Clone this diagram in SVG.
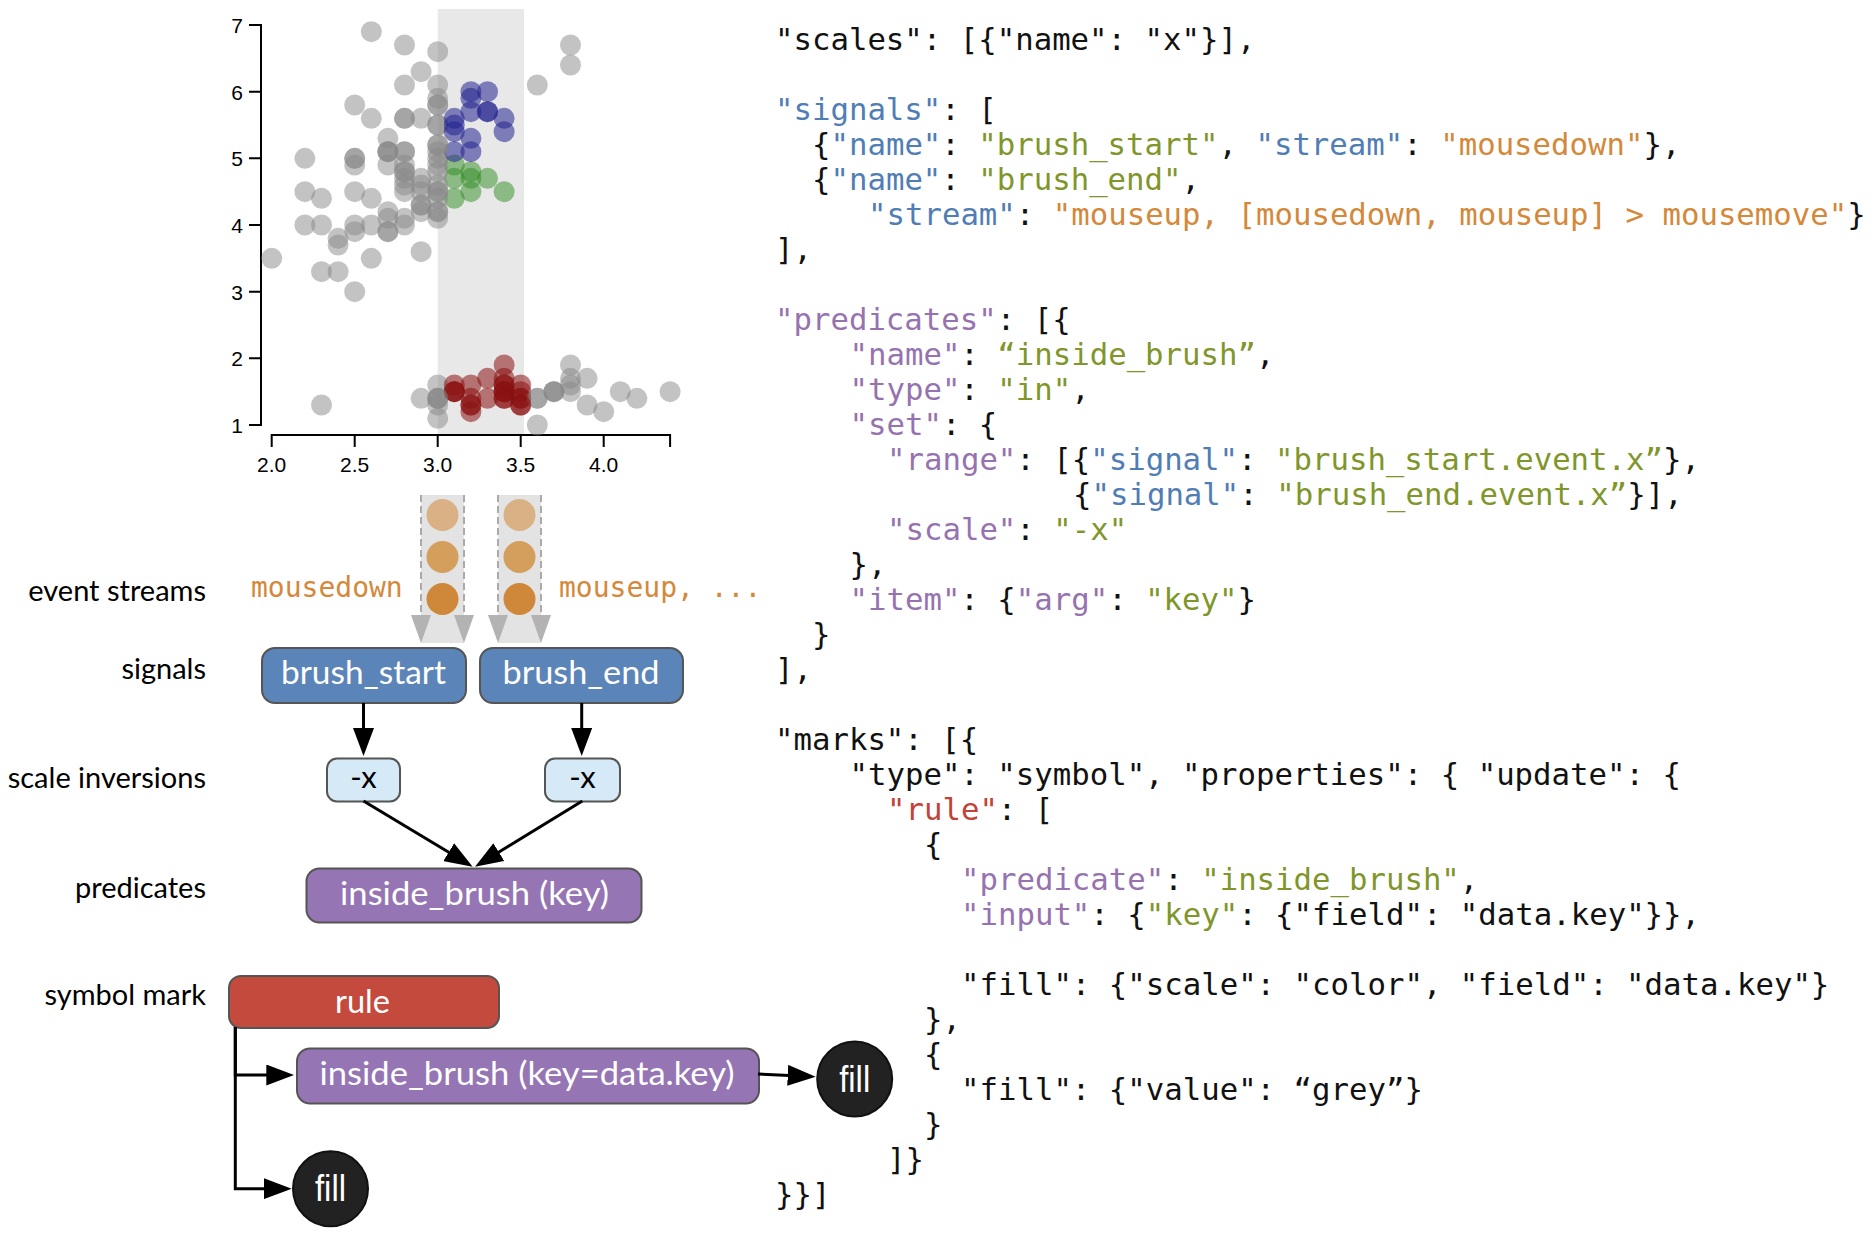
<svg xmlns="http://www.w3.org/2000/svg" width="1876" height="1234" viewBox="0 0 1876 1234">
<defs>
<style>
.tick{font-family:"Liberation Sans",Arial,sans-serif;font-size:21px;fill:#000}
.lbl{font-family:Lato,"Noto Sans",sans-serif;font-size:29px;fill:#000;text-anchor:end}
.bt{font-family:Lato,"Noto Sans",sans-serif;font-size:33px;fill:#fff;text-anchor:middle}
.ax{fill:none;stroke:#000;stroke-width:2}
.g{fill:#888;fill-opacity:0.5}
.r{fill:#8a1010;fill-opacity:0.55}
.gr{fill:#2f8c22;fill-opacity:0.5}
.b{fill:#23238f;fill-opacity:0.55}
.code{font-family:"DejaVu Sans Mono","Liberation Mono",monospace;font-size:30.7px;fill:#111}
.ev{font-family:"DejaVu Sans Mono","Liberation Mono",monospace;font-size:28px;fill:#d4883a}
.cB{fill:#507db4}.cG{fill:#80962a}.cO{fill:#d4883a}.cP{fill:#9673af}.cR{fill:#c34137}
.box{stroke:#555;stroke-width:2}
.col{fill:#e3e3e3}
.dash{stroke:#aaa;stroke-width:2;stroke-dasharray:7 4}
.tri{fill:#b3b3b3}
.con{fill:none;stroke:#000;stroke-width:3;marker-end:url(#ah)}
.fillc{fill:#222;stroke:#111;stroke-width:2}
.ft{font-family:"Liberation Sans",Arial,sans-serif;font-size:36px;fill:#fff;text-anchor:middle}
</style>
<marker id="ah" markerUnits="userSpaceOnUse" markerWidth="28" markerHeight="21" viewBox="0 0 28 21" refX="18" refY="10.5" orient="auto"><path d="M0,0L28,10.5L0,21z" fill="#000"/></marker>
</defs>
<rect width="1876" height="1234" fill="#fff"/>

<g id="scatter">
<rect x="437.7" y="9" width="86.3" height="426" fill="#e8e8e8"/>
<path class="ax" d="M249,25H261V425H249"/>
<path class="ax" d="M249,91.7H261M249,158.3H261M249,225H261M249,291.7H261M249,358.3H261"/>
<path class="ax" d="M271.7,447V435H670.1V447M354.7,435V447M437.7,435V447M520.7,435V447M603.7,435V447"/>
<g class="tick" text-anchor="end">
<text x="243" y="33">7</text><text x="243" y="99.7">6</text><text x="243" y="166.3">5</text><text x="243" y="233">4</text><text x="243" y="299.7">3</text><text x="243" y="366.3">2</text><text x="243" y="433">1</text>
</g>
<g class="tick" text-anchor="middle">
<text x="271.7" y="472">2.0</text><text x="354.7" y="472">2.5</text><text x="437.7" y="472">3.0</text><text x="520.7" y="472">3.5</text><text x="603.7" y="472">4.0</text>
</g>
<g id="points">
<circle class="r" cx="520.7" cy="398.3" r="10.5"/>
<circle class="g" cx="437.7" cy="398.3" r="10.5"/>
<circle class="r" cx="470.9" cy="405" r="10.5"/>
<circle class="r" cx="454.3" cy="391.7" r="10.5"/>
<circle class="g" cx="537.3" cy="398.3" r="10.5"/>
<circle class="g" cx="587.1" cy="378.3" r="10.5"/>
<circle class="r" cx="504.1" cy="398.3" r="10.5"/>
<circle class="r" cx="504.1" cy="391.7" r="10.5"/>
<circle class="g" cx="421.1" cy="398.3" r="10.5"/>
<circle class="r" cx="454.3" cy="391.7" r="10.5"/>
<circle class="g" cx="553.9" cy="391.7" r="10.5"/>
<circle class="r" cx="504.1" cy="385" r="10.5"/>
<circle class="g" cx="437.7" cy="398.3" r="10.5"/>
<circle class="g" cx="437.7" cy="418.3" r="10.5"/>
<circle class="g" cx="603.7" cy="411.7" r="10.5"/>
<circle class="g" cx="670.1" cy="391.7" r="10.5"/>
<circle class="g" cx="587.1" cy="405" r="10.5"/>
<circle class="r" cx="520.7" cy="398.3" r="10.5"/>
<circle class="g" cx="570.5" cy="378.3" r="10.5"/>
<circle class="g" cx="570.5" cy="391.7" r="10.5"/>
<circle class="r" cx="504.1" cy="378.3" r="10.5"/>
<circle class="g" cx="553.9" cy="391.7" r="10.5"/>
<circle class="g" cx="537.3" cy="425" r="10.5"/>
<circle class="r" cx="487.5" cy="378.3" r="10.5"/>
<circle class="r" cx="504.1" cy="365" r="10.5"/>
<circle class="g" cx="437.7" cy="385" r="10.5"/>
<circle class="r" cx="504.1" cy="385" r="10.5"/>
<circle class="r" cx="520.7" cy="391.7" r="10.5"/>
<circle class="r" cx="504.1" cy="398.3" r="10.5"/>
<circle class="r" cx="470.9" cy="385" r="10.5"/>
<circle class="r" cx="454.3" cy="385" r="10.5"/>
<circle class="r" cx="504.1" cy="391.7" r="10.5"/>
<circle class="g" cx="620.3" cy="391.7" r="10.5"/>
<circle class="g" cx="636.9" cy="398.3" r="10.5"/>
<circle class="r" cx="454.3" cy="391.7" r="10.5"/>
<circle class="r" cx="470.9" cy="411.7" r="10.5"/>
<circle class="r" cx="520.7" cy="405" r="10.5"/>
<circle class="g" cx="537.3" cy="398.3" r="10.5"/>
<circle class="g" cx="437.7" cy="405" r="10.5"/>
<circle class="r" cx="504.1" cy="391.7" r="10.5"/>
<circle class="r" cx="520.7" cy="405" r="10.5"/>
<circle class="g" cx="321.5" cy="405" r="10.5"/>
<circle class="r" cx="470.9" cy="405" r="10.5"/>
<circle class="r" cx="520.7" cy="385" r="10.5"/>
<circle class="g" cx="570.5" cy="365" r="10.5"/>
<circle class="g" cx="437.7" cy="398.3" r="10.5"/>
<circle class="g" cx="570.5" cy="385" r="10.5"/>
<circle class="r" cx="470.9" cy="398.3" r="10.5"/>
<circle class="g" cx="553.9" cy="391.7" r="10.5"/>
<circle class="r" cx="487.5" cy="398.3" r="10.5"/>
<circle class="gr" cx="470.9" cy="178.3" r="10.5"/>
<circle class="gr" cx="470.9" cy="191.7" r="10.5"/>
<circle class="gr" cx="454.3" cy="165" r="10.5"/>
<circle class="g" cx="321.5" cy="225" r="10.5"/>
<circle class="g" cx="404.5" cy="185" r="10.5"/>
<circle class="g" cx="404.5" cy="191.7" r="10.5"/>
<circle class="gr" cx="487.5" cy="178.3" r="10.5"/>
<circle class="g" cx="338.1" cy="271.7" r="10.5"/>
<circle class="g" cx="421.1" cy="185" r="10.5"/>
<circle class="g" cx="387.9" cy="231.7" r="10.5"/>
<circle class="g" cx="271.7" cy="258.3" r="10.5"/>
<circle class="g" cx="437.7" cy="211.7" r="10.5"/>
<circle class="g" cx="304.9" cy="225" r="10.5"/>
<circle class="g" cx="421.1" cy="178.3" r="10.5"/>
<circle class="g" cx="421.1" cy="251.7" r="10.5"/>
<circle class="gr" cx="454.3" cy="198.3" r="10.5"/>
<circle class="g" cx="437.7" cy="191.7" r="10.5"/>
<circle class="g" cx="387.9" cy="218.3" r="10.5"/>
<circle class="g" cx="304.9" cy="191.7" r="10.5"/>
<circle class="g" cx="354.7" cy="231.7" r="10.5"/>
<circle class="gr" cx="470.9" cy="171.7" r="10.5"/>
<circle class="g" cx="404.5" cy="225" r="10.5"/>
<circle class="g" cx="354.7" cy="165" r="10.5"/>
<circle class="g" cx="404.5" cy="178.3" r="10.5"/>
<circle class="g" cx="421.1" cy="205" r="10.5"/>
<circle class="g" cx="437.7" cy="198.3" r="10.5"/>
<circle class="g" cx="404.5" cy="171.7" r="10.5"/>
<circle class="g" cx="437.7" cy="158.3" r="10.5"/>
<circle class="g" cx="421.1" cy="191.7" r="10.5"/>
<circle class="g" cx="371.3" cy="258.3" r="10.5"/>
<circle class="g" cx="338.1" cy="238.3" r="10.5"/>
<circle class="g" cx="338.1" cy="245" r="10.5"/>
<circle class="g" cx="387.9" cy="231.7" r="10.5"/>
<circle class="g" cx="387.9" cy="151.7" r="10.5"/>
<circle class="g" cx="437.7" cy="191.7" r="10.5"/>
<circle class="gr" cx="504.1" cy="191.7" r="10.5"/>
<circle class="gr" cx="454.3" cy="178.3" r="10.5"/>
<circle class="g" cx="321.5" cy="198.3" r="10.5"/>
<circle class="g" cx="437.7" cy="218.3" r="10.5"/>
<circle class="g" cx="354.7" cy="225" r="10.5"/>
<circle class="g" cx="371.3" cy="198.3" r="10.5"/>
<circle class="g" cx="437.7" cy="185" r="10.5"/>
<circle class="g" cx="371.3" cy="225" r="10.5"/>
<circle class="g" cx="321.5" cy="271.7" r="10.5"/>
<circle class="g" cx="387.9" cy="211.7" r="10.5"/>
<circle class="g" cx="437.7" cy="211.7" r="10.5"/>
<circle class="g" cx="421.1" cy="211.7" r="10.5"/>
<circle class="g" cx="421.1" cy="205" r="10.5"/>
<circle class="g" cx="354.7" cy="291.7" r="10.5"/>
<circle class="g" cx="404.5" cy="218.3" r="10.5"/>
<circle class="b" cx="487.5" cy="91.7" r="10.5"/>
<circle class="g" cx="387.9" cy="151.7" r="10.5"/>
<circle class="g" cx="437.7" cy="98.3" r="10.5"/>
<circle class="g" cx="421.1" cy="118.3" r="10.5"/>
<circle class="g" cx="437.7" cy="105" r="10.5"/>
<circle class="g" cx="437.7" cy="51.7" r="10.5"/>
<circle class="g" cx="354.7" cy="191.7" r="10.5"/>
<circle class="g" cx="421.1" cy="71.7" r="10.5"/>
<circle class="g" cx="354.7" cy="105" r="10.5"/>
<circle class="g" cx="537.3" cy="85" r="10.5"/>
<circle class="b" cx="470.9" cy="151.7" r="10.5"/>
<circle class="g" cx="387.9" cy="138.3" r="10.5"/>
<circle class="g" cx="437.7" cy="125" r="10.5"/>
<circle class="g" cx="354.7" cy="158.3" r="10.5"/>
<circle class="g" cx="404.5" cy="151.7" r="10.5"/>
<circle class="b" cx="470.9" cy="138.3" r="10.5"/>
<circle class="g" cx="437.7" cy="125" r="10.5"/>
<circle class="g" cx="570.5" cy="45" r="10.5"/>
<circle class="g" cx="371.3" cy="31.7" r="10.5"/>
<circle class="g" cx="304.9" cy="158.3" r="10.5"/>
<circle class="b" cx="470.9" cy="111.7" r="10.5"/>
<circle class="g" cx="404.5" cy="165" r="10.5"/>
<circle class="g" cx="404.5" cy="45" r="10.5"/>
<circle class="g" cx="387.9" cy="165" r="10.5"/>
<circle class="b" cx="487.5" cy="111.7" r="10.5"/>
<circle class="b" cx="470.9" cy="91.7" r="10.5"/>
<circle class="g" cx="404.5" cy="171.7" r="10.5"/>
<circle class="g" cx="437.7" cy="165" r="10.5"/>
<circle class="g" cx="404.5" cy="118.3" r="10.5"/>
<circle class="g" cx="437.7" cy="105" r="10.5"/>
<circle class="g" cx="404.5" cy="85" r="10.5"/>
<circle class="g" cx="570.5" cy="65" r="10.5"/>
<circle class="g" cx="404.5" cy="118.3" r="10.5"/>
<circle class="g" cx="404.5" cy="151.7" r="10.5"/>
<circle class="g" cx="371.3" cy="118.3" r="10.5"/>
<circle class="g" cx="437.7" cy="85" r="10.5"/>
<circle class="b" cx="504.1" cy="118.3" r="10.5"/>
<circle class="b" cx="454.3" cy="125" r="10.5"/>
<circle class="g" cx="437.7" cy="171.7" r="10.5"/>
<circle class="b" cx="454.3" cy="131.7" r="10.5"/>
<circle class="b" cx="454.3" cy="118.3" r="10.5"/>
<circle class="b" cx="454.3" cy="151.7" r="10.5"/>
<circle class="g" cx="387.9" cy="151.7" r="10.5"/>
<circle class="b" cx="470.9" cy="98.3" r="10.5"/>
<circle class="b" cx="487.5" cy="111.7" r="10.5"/>
<circle class="g" cx="437.7" cy="145" r="10.5"/>
<circle class="g" cx="354.7" cy="158.3" r="10.5"/>
<circle class="g" cx="437.7" cy="145" r="10.5"/>
<circle class="b" cx="504.1" cy="131.7" r="10.5"/>
<circle class="g" cx="437.7" cy="151.7" r="10.5"/>
</g>
</g>

<g id="row-labels">
<text class="lbl" x="206" y="601">event streams</text>
<text class="lbl" x="206" y="679">signals</text>
<text class="lbl" x="206" y="788">scale inversions</text>
<text class="lbl" x="206" y="898">predicates</text>
<text class="lbl" x="206" y="1005">symbol mark</text>
</g>

<g id="stream-mousedown">
<text class="ev" x="251" y="597">mousedown</text>
<rect class="col" x="421" y="495" width="43" height="148"/>
<line class="dash" x1="421" y1="495" x2="421" y2="616"/>
<line class="dash" x1="464" y1="495" x2="464" y2="616"/>
<polygon class="tri" points="411,615 431,615 421,643"/>
<polygon class="tri" points="454,615 474,615 464,643"/>
<circle cx="442.5" cy="515" r="16" fill="#d9b185"/>
<circle cx="442.5" cy="557" r="16" fill="#d49e5c"/>
<circle cx="442.5" cy="599" r="16" fill="#cf883a"/>
</g>

<g id="stream-mouseup">
<text class="ev" x="559" y="597">mouseup, ...</text>
<rect class="col" x="498" y="495" width="43" height="148"/>
<line class="dash" x1="498" y1="495" x2="498" y2="616"/>
<line class="dash" x1="541" y1="495" x2="541" y2="616"/>
<polygon class="tri" points="488,615 508,615 498,643"/>
<polygon class="tri" points="531,615 551,615 541,643"/>
<circle cx="519.5" cy="515" r="16" fill="#d9b185"/>
<circle cx="519.5" cy="557" r="16" fill="#d49e5c"/>
<circle cx="519.5" cy="599" r="16" fill="#cf883a"/>
</g>

<g id="n-brush-start">
<rect class="box" x="262" y="648" width="204" height="55" rx="13" fill="#5b84b8"/>
<text class="bt" x="363.5" y="684" textLength="165" lengthAdjust="spacingAndGlyphs">brush_start</text>
</g>
<g id="n-brush-end">
<rect class="box" x="480" y="648" width="203" height="55" rx="13" fill="#5b84b8"/>
<text class="bt" x="581" y="684" textLength="157" lengthAdjust="spacingAndGlyphs">brush_end</text>
</g>
<g id="n-inv-start">
<rect class="box" x="327" y="758.5" width="73" height="43" rx="10" fill="#d5e9f7"/>
<text class="bt" x="363.5" y="788" style="fill:#000;font-size:31px">-x</text>
</g>
<g id="n-inv-end">
<rect class="box" x="545" y="758.5" width="75" height="43" rx="10" fill="#d5e9f7"/>
<text class="bt" x="582.5" y="788" style="fill:#000;font-size:31px">-x</text>
</g>
<g id="n-predicate">
<rect class="box" x="306.5" y="868.5" width="335" height="54" rx="13" fill="#9575b3"/>
<text class="bt" x="474.5" y="905" textLength="269" lengthAdjust="spacingAndGlyphs">inside_brush (key)</text>
</g>
<g id="n-rule">
<rect class="box" x="229" y="976" width="270" height="52" rx="12" fill="#c44a3e"/>
<text class="bt" x="362.5" y="1013" textLength="55" lengthAdjust="spacingAndGlyphs">rule</text>
</g>
<g id="n-rule-pred">
<rect class="box" x="297" y="1048.5" width="462" height="55" rx="13" fill="#9575b3"/>
<text class="bt" x="527" y="1085" textLength="415" lengthAdjust="spacingAndGlyphs">inside_brush (key=data.key)</text>
</g>
<g id="n-fill-pred">
<circle class="fillc" cx="854.7" cy="1079" r="37.5"/>
<text class="ft" x="854.7" y="1092" textLength="31" lengthAdjust="spacingAndGlyphs">fill</text>
</g>
<g id="n-fill-default">
<circle class="fillc" cx="330.5" cy="1188.7" r="37.5"/>
<text class="ft" x="330.5" y="1201" textLength="31" lengthAdjust="spacingAndGlyphs">fill</text>
</g>

<g id="connectors">
<line class="con" x1="363.5" y1="703" x2="363.5" y2="746"/>
<line class="con" x1="581.7" y1="703" x2="581.7" y2="746"/>
<line class="con" x1="363.5" y1="801" x2="464.1" y2="861.5"/>
<line class="con" x1="582.3" y1="801" x2="483.5" y2="861.5"/>
<path class="con" d="M235.3,1027V1075H284.3"/>
<path class="con" d="M235.3,1027V1188.7H281.7"/>
<line class="con" x1="758" y1="1074" x2="805.7" y2="1076.2"/>
</g>

<g id="code" class="code" xml:space="preserve">
<text x="775" y="50">"scales": [{"name": "x"}],</text>
<text x="775" y="120"><tspan class="cB">"signals"</tspan>: [</text>
<text x="812" y="155">{<tspan class="cB">"name"</tspan>: <tspan class="cG">"brush_start"</tspan>, <tspan class="cB">"stream"</tspan>: <tspan class="cO">"mousedown"</tspan>},</text>
<text x="812" y="190">{<tspan class="cB">"name"</tspan>: <tspan class="cG">"brush_end"</tspan>,</text>
<text x="868" y="225"><tspan class="cB">"stream"</tspan>: <tspan class="cO">"mouseup, [mousedown, mouseup] &gt; mousemove"</tspan>}</text>
<text x="775" y="260">],</text>
<text x="775" y="330"><tspan class="cP">"predicates"</tspan>: [{</text>
<text x="849.5" y="365"><tspan class="cP">"name"</tspan>: <tspan class="cG">“inside_brush”</tspan>,</text>
<text x="849.5" y="400"><tspan class="cP">"type"</tspan>: <tspan class="cG">"in"</tspan>,</text>
<text x="849.5" y="435"><tspan class="cP">"set"</tspan>: {</text>
<text x="887" y="470"><tspan class="cP">"range"</tspan>: [{<tspan class="cB">"signal"</tspan>: <tspan class="cG">"brush_start.event.x”</tspan>},</text>
<text x="1073" y="505">{<tspan class="cB">"signal"</tspan>: <tspan class="cG">"brush_end.event.x”</tspan>}],</text>
<text x="887" y="540"><tspan class="cP">"scale"</tspan>: <tspan class="cG">"-x"</tspan></text>
<text x="849.5" y="575">},</text>
<text x="849.5" y="610"><tspan class="cP">"item"</tspan>: {<tspan class="cP">"arg"</tspan>: <tspan class="cG">"key"</tspan>}</text>
<text x="812" y="645">}</text>
<text x="775" y="680">],</text>
<text x="775" y="750">"marks": [{</text>
<text x="849.5" y="785">"type": "symbol", "properties": { "update": {</text>
<text x="887" y="820"><tspan class="cR">"rule"</tspan>: [</text>
<text x="924" y="855">{</text>
<text x="961" y="890"><tspan class="cP">"predicate"</tspan>: <tspan class="cG">"inside_brush"</tspan>,</text>
<text x="961" y="925"><tspan class="cP">"input"</tspan>: {<tspan class="cG">"key"</tspan>: {"field": "data.key"}},</text>
<text x="961" y="995">"fill": {"scale": "color", "field": "data.key"}</text>
<text x="924" y="1030">},</text>
<text x="924" y="1065">{</text>
<text x="961" y="1100">"fill": {"value": “grey”}</text>
<text x="924" y="1135">}</text>
<text x="887" y="1170">]}</text>
<text x="775" y="1205">}}]</text>
</g>
</svg>
